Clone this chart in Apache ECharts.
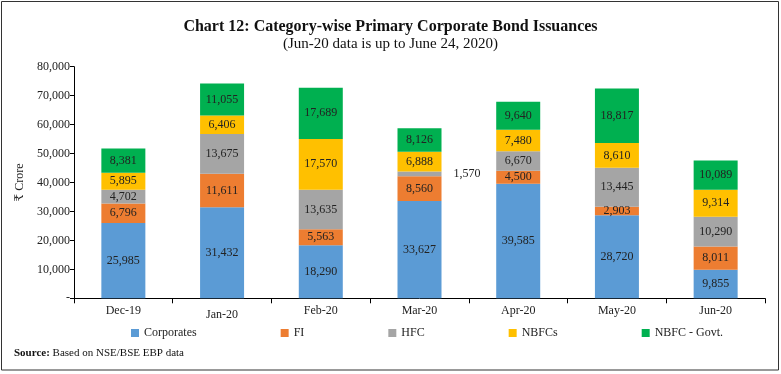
<!DOCTYPE html>
<html><head><meta charset="utf-8">
<script src="https://cdn.jsdelivr.net/npm/echarts@6/dist/echarts.min.js"></script>
<style>html,body{margin:0;padding:0;background:#fff}#c{width:781px;height:374px}</style>
</head><body><div id="c"></div>
<script>
var categories = ['Dec-19','Jan-20','Feb-20','Mar-20','Apr-20','May-20','Jun-20'];
var corporates = [25985, 31432, 18290, 33627, 39585, 28720, 9855];
var fi = [6796, 11611, 5563, 8560, 4500, 2903, 8011];
var hfc = [4702, 13675, 13635, 1570, 6670, 13445, 10290];
var nbfcs = [5895, 6406, 17570, 6888, 7480, 8610, 9314];
var nbfcGovt = [8381, 11055, 17689, 8126, 9640, 18817, 10089];
var yTicks = [0, 10000, 20000, 30000, 40000, 50000, 60000, 70000, 80000];

var FONT = '"Liberation Serif", "DejaVu Serif", serif';
var chart = echarts.init(document.getElementById('c'));
function fmt(v){ return v === 0 ? '-' : v.toLocaleString('en-US'); }
function mk(name, data, color, special){
  return {
    name: name, type: 'bar', stack: 'total', barWidth: 44,
    itemStyle: {color: color},
    label: {show: true, position: 'inside', fontFamily: FONT, fontSize: 12, color: '#222',
      formatter: function(p){ return p.value.toLocaleString('en-US'); }},
    data: data.map(function(v, i){
      if (special && special[i]) return {value: v, label: special[i]};
      return v;
    })
  };
}
chart.setOption({
  animation: false,
  textStyle: {fontFamily: FONT},
  title: [{
    text: 'Chart 12: Category-wise Primary Corporate Bond Issuances',
    subtext: '(Jun-20 data is up to June 24, 2020)',
    left: 'center', top: 14, itemGap: 2,
    textStyle: {fontFamily: FONT, fontSize: 16, fontWeight: 'bold', color: '#111'},
    subtextStyle: {fontFamily: FONT, fontSize: 15, color: '#111'}
  }],
  graphic: [
    {type: 'rect', shape: {x: 1.5, y: 1.5, width: 777, height: 368.5}, style: {fill: 'none', stroke: '#333', lineWidth: 1}},
    {type: 'text', left: 14, top: 348, style: {
      text: '{b|Source:} Based on NSE/BSE EBP data',
      rich: {b: {fontFamily: FONT, fontWeight: 'bold', fontSize: 11, fill: '#111'}},
      font: '11px ' + FONT, fill: '#111'}}
  ],
  legend: {
    left: 126, top: 322, itemGap: 84, itemWidth: 8, itemHeight: 8, icon: 'rect',
    formatter: '{s|{name}}',
    textStyle: {fontFamily: FONT, fontSize: 12, color: '#222',
      rich: {s: {fontFamily: FONT, fontSize: 12, color: '#222'}}},
    data: ['Corporates','FI','HFC','NBFCs','NBFC - Govt.']
  },
  grid: {left: 74, right: 16, top: 66.7, bottom: 75.7},
  xAxis: {
    type: 'category', data: categories,
    axisLine: {lineStyle: {color: '#000'}},
    axisTick: {show: true, length: 5, lineStyle: {color: '#000'}},
    axisLabel: {fontFamily: FONT, fontSize: 12, color: '#222', margin: 7,
      formatter: function(v){ return v === 'Jan-20' ? '{low|' + v + '}' : v; },
      rich: {low: {fontFamily: FONT, fontSize: 12, color: '#222', padding: [4,0,0,0]}}}
  },
  yAxis: {
    type: 'value', min: yTicks[0], max: yTicks[yTicks.length-1], interval: 10000,
    name: '₹ Crore', nameLocation: 'middle', nameGap: 37, nameRotate: 90,
    nameTextStyle: {fontFamily: FONT, fontSize: 12, color: '#222'},
    axisLine: {show: true, lineStyle: {color: '#000'}},
    axisTick: {show: true, length: 4, lineStyle: {color: '#000'}},
    splitLine: {show: false},
    axisLabel: {fontFamily: FONT, fontSize: 12, color: '#222', margin: 4, formatter: fmt}
  },
  series: [
    mk('Corporates', corporates, '#5B9BD5'),
    mk('FI', fi, '#ED7D31'),
    mk('HFC', hfc, '#A5A5A5', {3: {position: 'right', distance: 12}}),
    mk('NBFCs', nbfcs, '#FFC000'),
    mk('NBFC - Govt.', nbfcGovt, '#00B050')
  ]
});
</script></body></html>
